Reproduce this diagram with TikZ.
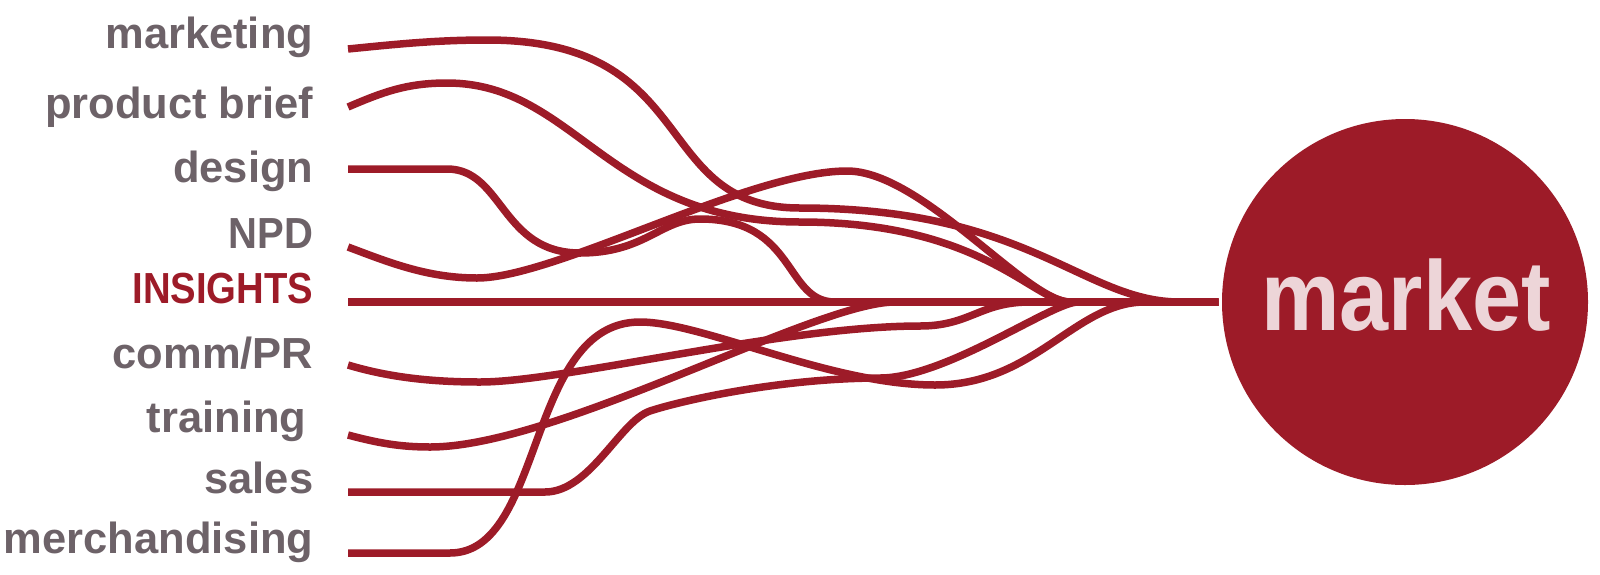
\documentclass[tikz,border=0pt]{standalone}
\usepackage{fontspec}
\setmainfont{Liberation Sans}
\definecolor{flowred}{HTML}{9D1B28}
\definecolor{labelgrey}{HTML}{6D6268}
\definecolor{hubpink}{HTML}{EDD5D8}
\begin{document}
\begin{tikzpicture}[x=1pt, y=-1pt,
    every path/.style={line width=7.5pt},
    lbl/.style={anchor=base east, inner sep=0pt, text=labelgrey, font=\fontsize{43.5}{50}\selectfont\bfseries},
    flow/.style={draw=flowred, line width=7.5pt}]

    \useasboundingbox (0,0) rectangle (1600,574);

    \node[lbl] (marketing) at (317,48) {marketing};
    \node[lbl] (brief) at (317,118) {product brief};
    \node[lbl] (design) at (317,182) {design};
    \node[lbl] (npd) at (317,248) {\scalebox{0.92}[1]{NPD}};
    \node[lbl, text=flowred] (insights) at (317,303) {\scalebox{0.88}[1]{INSIGHTS}};
    \node[lbl] (comm) at (317,368) {comm/PR};
    \node[lbl] (training) at (310,432) {training};
    \node[lbl] (sales) at (317,493) {sales};
    \node[lbl] (merch) at (317,553) {merchandising};

    \node[circle, fill=flowred, minimum size=366pt, inner sep=0pt] (market) at (1405,302) {};
    \node[anchor=base, inner sep=0pt, text=hubpink, font=\fontsize{90}{100}\selectfont\bfseries] (markettext) at (1406,330) {\scalebox{0.98}[1.1]{market}};

    \coordinate (s-mkt) at (348,49);
    \coordinate (s-brief) at (348,107);
    \coordinate (s-design) at (348,169);
    \coordinate (s-npd) at (348,247);
    \coordinate (s-insights) at (348,302);
    \coordinate (s-comm) at (348,365);
    \coordinate (s-training) at (348,435);
    \coordinate (s-sales) at (348,492);
    \coordinate (s-merch) at (348,553);

    \draw[flow] (s-insights) -- (market.west);

    \draw[flow] (s-mkt) .. controls +(50,-5) and +(-50,0) .. (487,40)
        .. controls +(216,0) and +(-151,0) .. (800,208)
        .. controls +(230,0) and +(-97,0) .. (1180,302) -- (market.west);

    \draw[flow] (s-brief) .. controls +(35,-15) and +(-40,0) .. (447,83)
        .. controls +(128,0) and +(-192,0) .. (800,222)
        .. controls +(183,0) and +(-37,0) .. (1070,302) -- (market.west);

    \draw[flow] (s-design) -- (447,169) .. controls +(56,0) and +(-79,0) .. (580,253)
        .. controls +(65,0) and +(-39,0) .. (700,219)
        .. controls +(97,0) and +(-51,0) .. (835,302) -- (market.west);

    \draw[flow] (s-npd) .. controls +(40,15) and +(-50,0) .. (477,278)
        .. controls +(79,0) and +(-98,0) .. (847,171)
        .. controls +(75,0) and +(-43,0) .. (1070,302) -- (market.west);

    \draw[flow] (s-comm) .. controls +(40,12) and +(-50,0) .. (480,382)
        .. controls +(84,0) and +(-138,0) .. (920,326)
        .. controls +(50,0) and +(-50,0) .. (1030,302) -- (market.west);

    \draw[flow] (s-training) .. controls +(30,8) and +(-30,0) .. (430,447)
        .. controls +(127,0) and +(-80,0) .. (895,302) -- (market.west);

    \draw[flow] (s-sales) -- (545,492) .. controls +(45,0) and +(-30,10) .. (650,411)
        .. controls +(30,-10) and +(-100,0) .. (880,378)
        .. controls +(66,0) and +(-26,0) .. (1078,302) -- (market.west);

    \draw[flow] (s-merch) -- (450,553) .. controls +(95,0) and +(-114,0) .. (640,322)
        .. controls +(63,0) and +(-105,0) .. (935,385)
        .. controls +(100,0) and +(-70,0) .. (1145,302) -- (market.west);

\end{tikzpicture}
\end{document}
